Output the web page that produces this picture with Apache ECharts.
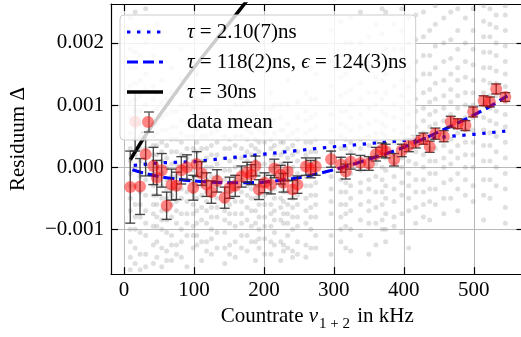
<!DOCTYPE html>
<html><head><meta charset="utf-8">
<script src="https://cdn.jsdelivr.net/npm/echarts@6/dist/echarts.min.js"></script>
<style>html,body{margin:0;padding:0;overflow:hidden;background:#fff}#c{width:526px;height:337px}</style>
</head><body><div id="c"></div>
<script>
// values in units of 1e-3 (Residuum)
const meanX = [9,16,23,31,42,47,54,61,68,75,82,90,99,104,111,118,125,133,144,151,159,168,176,182,188,193,201,210,215,224,228,234,241,248,260,267,274,296,310,317,324,338,350,360,369,374,386,397,407,417,428,437,445,457,467,477,488,499,514,523,532,545];
const meanY = [-0.32,0.73,-0.31,0.21,0.02,-0.17,-0.05,-0.62,-0.28,-0.30,-0.05,0.0,-0.33,0.05,-0.10,-0.28,-0.40,-0.22,-0.49,-0.33,-0.30,-0.15,-0.08,-0.12,0.02,-0.36,-0.25,-0.28,-0.02,-0.12,-0.25,-0.07,-0.36,-0.28,0.01,-0.03,0.01,0.13,0.04,-0.07,0.09,0.07,0.06,0.21,0.28,0.26,0.12,0.27,0.35,0.41,0.46,0.33,0.54,0.50,0.73,0.70,0.67,0.89,1.07,1.05,1.26,1.13];
const meanErr = [0.58,0.47,0.45,0.35,0.30,0.28,0.27,0.22,0.25,0.22,0.22,0.20,0.20,0.20,0.19,0.19,0.18,0.18,0.17,0.17,0.17,0.17,0.16,0.16,0.16,0.16,0.16,0.15,0.15,0.15,0.15,0.15,0.15,0.14,0.14,0.14,0.14,0.13,0.12,0.12,0.12,0.12,0.11,0.11,0.11,0.11,0.10,0.10,0.10,0.10,0.09,0.09,0.09,0.09,0.09,0.08,0.08,0.08,0.08,0.08,0.08,0.07];
// individual measurements, one column per meanX entry
const greyCols = [
[-1.65,-1.45,-1.2,-1.0,-0.7,-0.5,-0.3,-0.1,0.1,0.3,0.55,0.8,1.05,1.3,1.6,1.9,2.15,2.4],
[-1.55,-1.3,-1.0,-0.8,-0.6,-0.3,0.0,0.2,0.45,0.7,0.9,1.1,1.35,1.6,1.85,2.1,2.5],
[-1.65,-1.4,-1.05,-0.8,-0.6,-0.4,-0.15,0.1,0.3,0.5,0.7,0.9,1.15,1.4,1.8,2.2],
[-1.6,-1.4,-1.1,-0.9,-0.7,-0.45,-0.2,0.05,0.3,0.45,0.6,0.8,1.0,1.25,1.5,2.0,2.55],
[-1.55,-1.25,-0.95,-0.75,-0.6,-0.45,-0.3,-0.1,0.2,0.35,0.5,0.7,0.9,1.1,1.3,1.8],
[-1.45,-1.2,-0.95,-0.8,-0.6,-0.45,-0.2,0.0,0.2,0.35,0.55,0.7,0.95,1.2,1.7,2.3],
[-1.6,-1.3,-1.0,-0.85,-0.7,-0.5,-0.3,-0.1,0.1,0.25,0.4,0.6,0.8,1.05,1.4],
[-1.5,-1.35,-1.05,-0.85,-0.7,-0.5,-0.35,-0.2,0.0,0.15,0.35,0.6,0.85,1.1],
[-1.5,-1.25,-1.1,-0.8,-0.6,-0.45,-0.35,-0.15,0.05,0.25,0.45,0.65,0.9,1.2,1.6],
[-1.4,-1.25,-0.9,-0.7,-0.55,-0.35,-0.15,0.05,0.25,0.45,0.65,0.9,1.2],
[-1.45,-1.2,-1.0,-0.75,-0.5,-0.35,-0.2,0.0,0.2,0.4,0.55,0.75,1.0,1.4,1.9],
[-1.6,-1.1,-0.9,-0.75,-0.55,-0.4,-0.2,0.0,0.15,0.3,0.5,0.7,1.0,1.3],
[-1.3,-1.1,-0.95,-0.75,-0.6,-0.4,-0.25,-0.05,0.1,0.3,0.5,0.7,0.95],
[-1.25,-1.1,-0.9,-0.7,-0.5,-0.3,-0.1,0.05,0.25,0.4,0.6,0.8,1.1,1.5],
[-1.5,-1.2,-0.85,-0.65,-0.45,-0.3,-0.1,0.1,0.3,0.5,0.65,0.85,1.1],
[-1.35,-1.2,-0.9,-0.7,-0.55,-0.4,-0.2,0.0,0.15,0.3,0.5,0.7,0.85],
[-1.4,-1.15,-1.0,-0.8,-0.65,-0.45,-0.3,-0.15,0.0,0.2,0.35,0.55,0.75],
[-1.3,-1.05,-0.8,-0.65,-0.5,-0.3,-0.15,0.05,0.2,0.4,0.6,0.9,1.2],
[-1.55,-1.3,-1.05,-0.85,-0.7,-0.55,-0.4,-0.2,-0.05,0.15,0.3,0.5,0.7],
[-1.4,-1.25,-0.9,-0.75,-0.6,-0.4,-0.25,-0.05,0.1,0.3,0.45,0.65,0.9],
[-1.45,-1.2,-0.95,-0.75,-0.55,-0.35,-0.2,0.0,0.15,0.35,0.5,0.75,1.0],
[-1.3,-1.1,-0.9,-0.75,-0.55,-0.4,-0.2,-0.05,0.15,0.3,0.5,0.7,1.0,1.3],
[-1.35,-1.1,-0.85,-0.65,-0.45,-0.3,-0.1,0.1,0.25,0.45,0.6,0.8,1.05],
[-1.2,-0.95,-0.7,-0.5,-0.35,-0.15,0.0,0.2,0.35,0.55,0.8],
[-1.5,-1.2,-0.9,-0.7,-0.5,-0.3,-0.1,0.1,0.3,0.45,0.65,0.85,1.1],
[-1.3,-1.15,-1.0,-0.8,-0.6,-0.45,-0.3,-0.1,0.05,0.25,0.4,0.6],
[-1.4,-1.15,-0.95,-0.8,-0.6,-0.45,-0.3,-0.15,0.05,0.2,0.4,0.55,0.75,0.95],
[-1.4,-1.2,-0.95,-0.75,-0.6,-0.4,-0.25,-0.05,0.1,0.3,0.45,0.7,0.95,1.2],
[-1.25,-1.05,-0.85,-0.7,-0.5,-0.35,-0.15,0.0,0.2,0.35,0.55,0.75,1.0],
[-1.5,-1.2,-0.85,-0.65,-0.5,-0.3,-0.15,0.05,0.2,0.4,0.6,0.8,1.0],
[-1.35,-1.25,-0.9,-0.75,-0.55,-0.4,-0.3,-0.1,0.05,0.25,0.4,0.6],
[-1.3,-1.1,-0.9,-0.75,-0.6,-0.4,-0.2,-0.05,0.15,0.3,0.5,0.7,1.0,1.4],
[-1.45,-1.35,-1.0,-0.8,-0.65,-0.5,-0.3,-0.15,0.0,0.2,0.35,0.55],
[-1.4,-1.2,-0.95,-0.8,-0.6,-0.45,-0.25,-0.1,0.1,0.25,0.45,0.6,0.8,1.05],
[-1.45,-1.25,-0.9,-0.7,-0.5,-0.3,-0.15,0.05,0.2,0.4,0.55,0.75,0.9,1.2],
[-1.3,-1.0,-0.8,-0.65,-0.45,-0.3,-0.1,0.05,0.25,0.4,0.6,0.8,1.1,1.6],
[-1.3,-1.1,-0.8,-0.6,-0.45,-0.25,-0.1,0.1,0.25,0.45,0.65,0.85,1.1,1.5],
[-1.4,-1.1,-0.75,-0.55,-0.35,-0.15,0.05,0.25,0.4,0.6,0.85,1.05,1.3,1.7,2.2],
[-1.2,-1.0,-0.8,-0.6,-0.4,-0.2,-0.05,0.15,0.3,0.5,0.7,0.9,1.15,1.45,1.8,2.35],
[-1.3,-0.95,-0.75,-0.6,-0.4,-0.25,-0.05,0.1,0.3,0.45,0.65,0.9,1.2,1.5,2.0],
[-1.35,-1.0,-0.7,-0.5,-0.3,-0.1,0.05,0.25,0.4,0.6,0.8,1.0,1.25,1.6,2.0,2.4],
[-1.1,-0.85,-0.6,-0.4,-0.25,-0.05,0.1,0.3,0.45,0.65,0.85,1.1,1.35,1.65,2.0,2.5],
[-1.4,-0.9,-0.7,-0.55,-0.35,-0.2,0.0,0.15,0.35,0.5,0.7,0.95,1.2,1.6,2.1],
[-1.25,-0.9,-0.65,-0.4,-0.15,0.05,0.2,0.4,0.55,0.75,1.0,1.2,1.45,1.85,2.3],
[-1.0,-0.85,-0.6,-0.4,-0.2,0.0,0.2,0.35,0.55,0.7,0.9,1.1,1.4,1.7,2.15,2.55],
[-1.2,-1.0,-0.75,-0.5,-0.3,-0.05,0.15,0.3,0.5,0.65,0.85,1.2,1.5,1.9,2.5],
[-0.95,-0.8,-0.55,-0.35,-0.15,0.05,0.2,0.4,0.6,0.8,1.0,1.3,1.6,1.9,2.3],
[-1.05,-0.75,-0.45,-0.25,0.0,0.15,0.35,0.55,0.75,0.95,1.15,1.4,1.6,1.9,2.2,2.55],
[-1.3,-0.7,-0.5,-0.3,-0.1,0.1,0.3,0.45,0.65,0.85,1.05,1.3,1.6,2.0,2.4],
[-0.9,-0.65,-0.4,-0.2,0.05,0.25,0.45,0.65,0.9,1.1,1.4,1.7,2.05,2.45],
[-0.8,-0.6,-0.4,-0.2,0.0,0.2,0.4,0.55,0.75,0.95,1.2,1.5,1.8,2.1,2.5],
[-0.85,-0.55,-0.35,-0.1,0.1,0.3,0.45,0.65,0.85,1.05,1.25,1.5,1.8,2.2],
[-0.6,-0.35,-0.1,0.1,0.3,0.5,0.7,0.9,1.1,1.35,1.6,1.95,2.3,2.6],
[-0.75,-0.5,-0.25,0.0,0.15,0.35,0.55,0.75,0.95,1.15,1.4,1.7,2.0,2.4],
[-0.5,-0.2,0.05,0.25,0.45,0.65,0.85,1.05,1.25,1.5,1.75,2.05,2.5],
[-0.7,-0.35,-0.1,0.15,0.35,0.55,0.75,0.95,1.15,1.4,1.6,1.9,2.2,2.55],
[-0.45,-0.2,0.0,0.2,0.4,0.6,0.8,1.0,1.2,1.45,1.7,2.0,2.4],
[-0.55,-0.3,0.0,0.2,0.4,0.6,0.8,1.0,1.2,1.4,1.65,1.9,2.2,2.55],
[-0.85,-0.45,-0.2,0.1,0.35,0.6,0.8,1.0,1.2,1.4,1.6,1.85,2.1,2.35,2.6],
[-0.5,-0.2,0.1,0.35,0.55,0.75,0.95,1.15,1.35,1.6,1.85,2.1,2.3,2.55],
[-0.3,0.0,0.25,0.5,0.7,0.9,1.15,1.35,1.55,1.8,2.0,2.25,2.45],
[-0.9,-0.65,-0.35,-0.1,0.15,0.4,0.65,0.85,1.05,1.3,1.5,1.7,1.95,2.2,2.45,2.6]
];
const fitX = [12,30,50,75,100,125,150,175,200,225,250,275,300,325,350,375,400,425,450,475,500,525,548];
const fitY = [-0.04,-0.10,-0.15,-0.19,-0.22,-0.24,-0.25,-0.25,-0.24,-0.21,-0.17,-0.11,-0.04,0.04,0.13,0.22,0.32,0.44,0.57,0.70,0.84,0.99,1.15];
const tau210X = [14,50,100,125,150,200,250,282,300,350,400,450,500,545];
const tau210Y = [0.03,0.07,0.09,0.12,0.15,0.21,0.27,0.31,0.33,0.38,0.43,0.48,0.53,0.58];
const tau30X = [9,30,60,100,140,180];
const tau30Y = [0.12,0.50,0.98,1.60,2.17,2.74];
const xTicks = [0,100,200,300,400,500];
const yTicks = [-1,0,1,2];

const FONT = '"Liberation Serif","DejaVu Serif",serif';
const zip = (xs, ys) => xs.map((x, i) => [x, ys[i]]);
const greyData = [];
greyCols.forEach((col, i) => col.forEach(y => greyData.push([meanX[i], y])));

const svg = s => 'image://data:image/svg+xml;charset=utf-8,' + encodeURIComponent(
  "<svg xmlns='http://www.w3.org/2000/svg' width='36' height='22'>" + s + "</svg>");
const icons = {
  d1: svg("<line x1='0' y1='11' x2='36' y2='11' stroke='#0000ff' stroke-width='3.2' stroke-dasharray='3.4,6.6'/>"),
  d2: svg("<line x1='0' y1='11' x2='36' y2='11' stroke='#0000ff' stroke-width='3.2' stroke-dasharray='11,5'/>"),
  d3: svg("<line x1='0' y1='11' x2='36' y2='11' stroke='#000' stroke-width='3.5'/>"),
  d4: svg("<g stroke='#333' stroke-width='1.4'><line x1='22' y1='1' x2='22' y2='21'/><line x1='17' y1='1' x2='27' y2='1'/><line x1='17' y1='21' x2='27' y2='21'/></g><circle cx='21' cy='11' r='6' fill='rgba(255,0,0,0.6)'/>")
};
const legendText = {
  d1: '{i|τ}{n| = 2.10(7)ns}',
  d2: '{i|τ}{n| = 118(2)ns, }{i|ϵ}{n| = 124(3)ns}',
  d3: '{i|τ}{n| = 30ns}',
  d4: '{n|data mean}'
};

const chart = echarts.init(document.getElementById('c'), null, {renderer: 'canvas'});
const axisCommon = {
  axisLine: {show: true, onZero: false, lineStyle: {color: '#000', width: 1.2}},
  axisTick: {show: true, inside: true, length: 7, lineStyle: {color: '#000', width: 1.2}},
};
chart.setOption({
  animation: false,
  grid: {left: 109, top: 4, right: 2.5, bottom: 60},
  xAxis: [{
    type: 'value', min: -18.5, max: 571, position: 'bottom',
    ...axisCommon,
    axisTick: {...axisCommon.axisTick, customValues: xTicks},
    axisLabel: {customValues: xTicks, fontFamily: FONT, fontSize: 21, color: '#000', margin: 6},
    splitLine: {show: true, lineStyle: {color: '#b8b8b8', width: 1}},
    name: '{a|Countrate }{b|ν}{c|1 + 2}{a| in kHz}',
    nameLocation: 'middle', nameGap: 31,
    nameTextStyle: {fontFamily: FONT, fontSize: 21, color: '#000', rich: {
      a: {fontFamily: FONT, fontSize: 21, lineHeight: 24, verticalAlign: 'top', color: '#000'},
      b: {fontFamily: FONT, fontSize: 21, lineHeight: 24, verticalAlign: 'top', fontStyle: 'italic', color: '#000'},
      c: {fontFamily: FONT, fontSize: 15, lineHeight: 15, verticalAlign: 'top', padding: [11, 2, 0, 1], color: '#000'}
    }}
  }, {
    type: 'value', min: -18.5, max: 571, position: 'top',
    ...axisCommon,
    axisTick: {...axisCommon.axisTick, customValues: xTicks},
    axisLabel: {show: false}, splitLine: {show: false}
  }],
  yAxis: [{
    type: 'value', min: -1.72, max: 2.627, position: 'left',
    ...axisCommon,
    axisTick: {...axisCommon.axisTick, customValues: yTicks},
    axisLabel: {customValues: yTicks, fontFamily: FONT, fontSize: 21, color: '#000', margin: 7,
      formatter: v => (v < 0 ? '−' : '') + (Math.abs(v) / 1000).toFixed(3)},
    splitLine: {show: true, lineStyle: {color: '#b8b8b8', width: 1}},
    name: 'Residuum Δ', nameLocation: 'middle', nameGap: 82, nameRotate: 90,
    nameTextStyle: {fontFamily: FONT, fontSize: 21, color: '#000'}
  }, {
    type: 'value', min: -1.72, max: 2.627, position: 'right',
    ...axisCommon,
    axisTick: {...axisCommon.axisTick, customValues: yTicks},
    axisLabel: {show: false}, splitLine: {show: false}
  }],
  legend: {
    orient: 'vertical', left: 120, top: 15, z: 10,
    padding: [6, 9, 7, 7], itemGap: 8, itemWidth: 36, itemHeight: 22,
    backgroundColor: 'rgba(255,255,255,0.8)', borderColor: '#cccccc', borderWidth: 1, borderRadius: 4,
    data: ['d1','d2','d3','d4'].map(n => ({name: n, icon: icons[n]})),
    formatter: n => legendText[n],
    textStyle: {fontFamily: FONT, fontSize: 21, color: '#000', padding: [0, 0, 0, 19], rich: {
      n: {fontFamily: FONT, fontSize: 21, color: '#000'},
      i: {fontFamily: FONT, fontSize: 21, fontStyle: 'italic', color: '#000'}
    }},
    selectedMode: false
  },
  series: [
    {name: 'grey', type: 'scatter', data: greyData, symbolSize: 5, z: 1, silent: true,
     itemStyle: {color: 'rgba(125,125,125,0.3)'}},
    {name: 'd1', type: 'line', data: zip(tau210X, tau210Y), showSymbol: false, symbol: 'none', z: 2, clip: true,
     lineStyle: {color: '#0000ff', width: 3.2, type: [3.4, 6.6], cap: 'butt'}},
    {name: 'd2', type: 'line', data: zip(fitX, fitY), showSymbol: false, symbol: 'none', smooth: 0.3, z: 2, clip: true,
     lineStyle: {color: '#0000ff', width: 3.2, type: [11, 5], cap: 'butt'}},
    {name: 'd3', type: 'line', data: zip(tau30X, tau30Y), showSymbol: false, symbol: 'none', smooth: 0.3, z: 2, clip: true,
     lineStyle: {color: '#000', width: 3.5}},
    {name: 'errbar', type: 'custom', z: 3, clip: true, silent: true,
     data: meanX.map((x, i) => [x, meanY[i], meanErr[i]]),
     encode: {x: 0, y: 1},
     renderItem: (params, api) => {
       const x = api.value(0), y = api.value(1), e = api.value(2);
       const t = api.coord([x, y + e]), b = api.coord([x, y - e]);
       const s = {stroke: 'rgba(45,45,45,0.85)', lineWidth: 1.4};
       return {type: 'group', children: [
         {type: 'line', shape: {x1: t[0], y1: t[1], x2: b[0], y2: b[1]}, style: s},
         {type: 'line', shape: {x1: t[0] - 5, y1: t[1], x2: t[0] + 5, y2: t[1]}, style: s},
         {type: 'line', shape: {x1: b[0] - 5, y1: b[1], x2: b[0] + 5, y2: b[1]}, style: s}
       ]};
     }},
    {name: 'd4', type: 'scatter', data: zip(meanX, meanY), symbolSize: 12, z: 4,
     itemStyle: {color: 'rgba(255,0,0,0.6)'}}
  ]
});
</script></body></html>
